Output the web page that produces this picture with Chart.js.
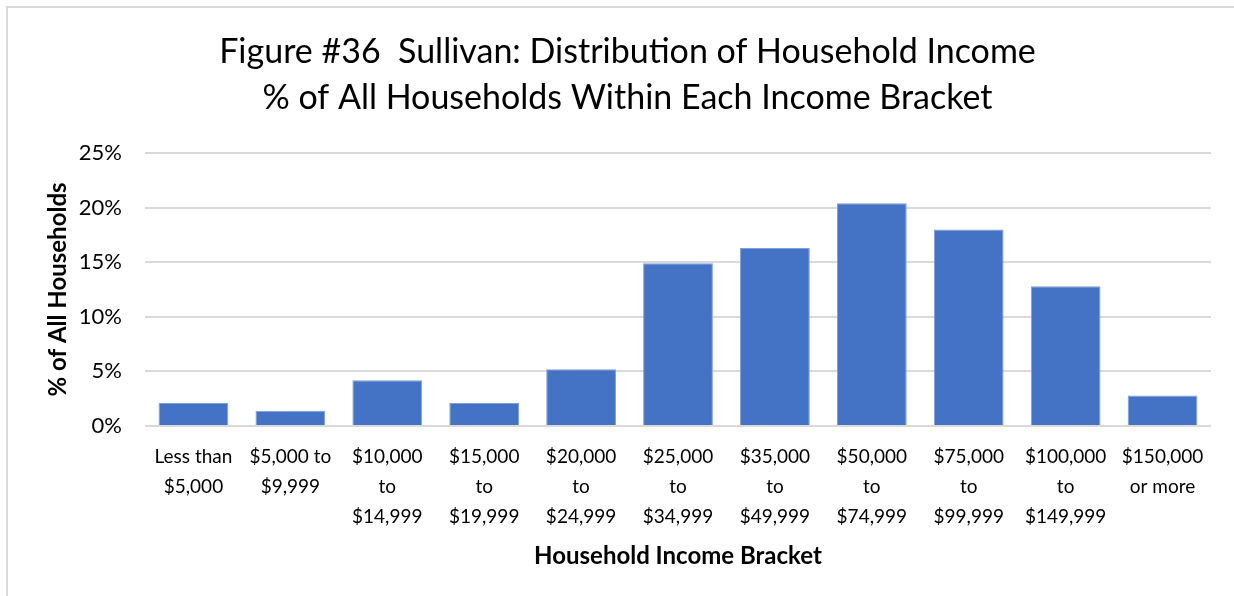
<!DOCTYPE html>
<html>
<head>
<meta charset="utf-8">
<script src="https://cdn.jsdelivr.net/npm/chart.js"></script>
<style>
  html, body { margin: 0; padding: 0; background: #fff; }
  #wrap { position: relative; width: 1234px; height: 596px; overflow: hidden; }
  /* chart-area frame, bleeds off the right/bottom edges */
  #frame { position: absolute; left: 6px; top: 6px; width: 1260px; height: 620px;
           border: 2px solid #d9d9d9; box-sizing: border-box; }
  canvas { position: absolute; left: 0; top: 0; }
</style>
</head>
<body>
<div id="wrap">
  <div id="frame"></div>
  <canvas id="c" width="1234" height="596"></canvas>
</div>
<script>
// income brackets (multi-line tick labels)
var brackets = [
  ['Less than', '$5,000'],
  ['$5,000 to', '$9,999'],
  ['$10,000', 'to', '$14,999'],
  ['$15,000', 'to', '$19,999'],
  ['$20,000', 'to', '$24,999'],
  ['$25,000', 'to', '$34,999'],
  ['$35,000', 'to', '$49,999'],
  ['$50,000', 'to', '$74,999'],
  ['$75,000', 'to', '$99,999'],
  ['$100,000', 'to', '$149,999'],
  ['$150,000', 'or more']
];
// share of households per bracket (%)
var shares = [2.1, 1.4, 4.2, 2.1, 5.2, 14.9, 16.3, 20.4, 18.0, 12.8, 2.8];
var yTicks = [0, 5, 10, 15, 20, 25];

var FONT = "Lato, 'Noto Sans', sans-serif";
var INK = '#000';
var GRID = '#d9d9d9';

new Chart(document.getElementById('c'), {
  type: 'bar',
  data: {
    labels: brackets,
    datasets: [{
      data: shares,
      backgroundColor: '#4472C4',
      borderColor: '#7f9fd8',
      borderWidth: 1,
      categoryPercentage: 1,
      barPercentage: 0.72
    }]
  },
  options: {
    responsive: false,
    animation: false,
    layout: { padding: { left: 44, right: 23, top: 29, bottom: 26 } },
    plugins: {
      legend: { display: false },
      tooltip: { enabled: false },
      title: {
        display: true,
        text: ['Figure #36  Sullivan: Distribution of Household Income',
               '% of All Households Within Each Income Bracket'],
        color: INK,
        font: { family: FONT, size: 34, weight: 'normal', lineHeight: 46 / 34 },
        padding: { top: 0, bottom: 32 }
      }
    },
    scales: {
      x: {
        afterFit: function (axis) { axis.height = 144; },
        grid: { display: false, drawTicks: false },
        border: { display: false },
        ticks: {
          color: INK, autoSkip: false, maxRotation: 0, padding: 16,
          font: { family: FONT, size: 19, lineHeight: 30 / 19 }
        },
        title: {
          display: true, text: 'Household Income Bracket', color: INK,
          font: { family: FONT, size: 24, weight: 'bold', lineHeight: 28 / 24 },
          padding: { top: 8, bottom: 0 }
        }
      },
      y: {
        min: 0, max: 25,
        afterBuildTicks: function (axis) {
          axis.ticks = yTicks.map(function (v) { return { value: v }; });
        },
        afterFit: function (axis) { axis.width = 101; },
        grid: { color: GRID, lineWidth: 2, drawTicks: false },
        border: { display: false },
        ticks: {
          color: INK, padding: 23,
          font: { family: FONT, size: 22 },
          callback: function (v) { return v + '%'; }
        },
        title: {
          display: true, text: '% of All Households', color: INK,
          font: { family: FONT, size: 24, weight: 'bold', lineHeight: 28 / 24 },
          padding: { top: 0, bottom: 0 }
        }
      }
    }
  }
});
</script>
</body>
</html>
